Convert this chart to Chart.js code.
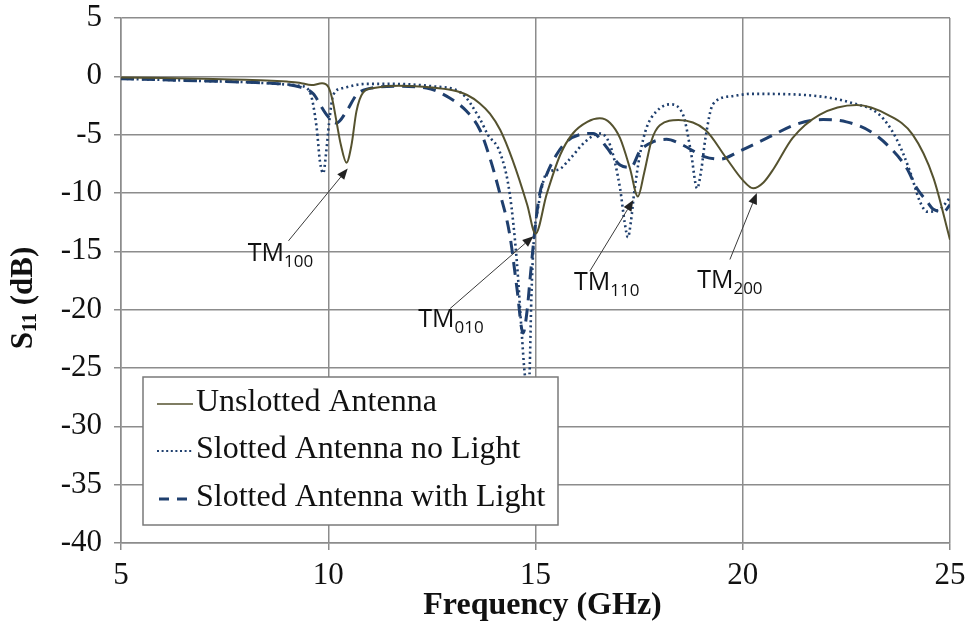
<!DOCTYPE html>
<html>
<head>
<meta charset="utf-8">
<script src="https://cdn.jsdelivr.net/npm/chart.js@4.4.1/dist/chart.umd.min.js"></script>
<style>
  html, body { margin: 0; padding: 0; background: #fff; }
  canvas { display: block; }
</style>
</head>
<body>
<canvas id="s11-chart" width="972" height="637"></canvas>
<script>
// Data (GHz, dB)
const freqUnslotted = [5, 6, 7, 8, 8.5, 9, 9.3, 9.6, 9.85, 10.0, 10.1, 10.2, 10.3, 10.44, 10.56, 10.68, 10.84, 11.1, 11.7, 12.5, 13.0, 13.35, 13.65, 13.9, 14.15, 14.45, 14.8, 15.0, 15.27, 15.6, 15.9, 16.25, 16.55, 16.8, 17.04, 17.28, 17.47, 17.62, 17.8, 18.0, 18.45, 19.1, 19.6, 20.0, 20.25, 20.5, 20.75, 21.2, 21.85, 22.75, 23.5, 24.1, 24.6, 25];
const s11Unslotted = [-0.1, -0.15, -0.2, -0.3, -0.35, -0.45, -0.55, -0.75, -0.6, -0.9, -2.0, -3.9, -5.8, -7.4, -5.9, -3.0, -1.4, -1.0, -0.8, -0.95, -1.2, -1.6, -2.3, -3.2, -4.6, -7.2, -11, -13.5, -10.1, -6.7, -4.9, -3.9, -3.6, -4.0, -5.3, -7.9, -10.3, -8.3, -5.5, -4.2, -3.75, -4.6, -7.0, -8.9, -9.6, -9.1, -7.9, -5.3, -3.3, -2.45, -3.3, -5.0, -8.7, -14.0];

const freqNoLight = [5, 6, 7, 8, 9, 9.3, 9.55, 9.72, 9.8, 9.88, 9.95, 10.02, 10.12, 10.36, 10.9, 11.6, 12.5, 13.2, 13.65, 13.85, 14.14, 14.38, 14.55, 14.66, 14.74, 14.8, 14.85, 14.9, 14.96, 15.05, 15.27, 15.55, 15.8, 16.2, 16.55, 16.8, 17.04, 17.15, 17.23, 17.3, 17.38, 17.52, 17.68, 17.92, 18.24, 18.56, 18.75, 18.9, 19.0, 19.1, 19.28, 19.75, 20.2, 21.5, 22.65, 23.3, 23.7, 24.03, 24.27, 24.45, 24.75, 25];
const s11NoLight = [-0.2, -0.3, -0.4, -0.5, -0.7, -0.8, -1.3, -4.4, -7.3, -8.3, -6.5, -4.0, -1.6, -1.0, -0.65, -0.65, -0.85, -1.4, -3.6, -5.0, -6.5, -10.1, -15.9, -21.6, -25.5, -26.8, -26, -19, -14, -11.5, -8.3, -8.0, -7.2, -5.6, -4.9, -5.9, -9.6, -12.5, -13.8, -12.5, -10, -6.7, -4.4, -3.0, -2.4, -3.3, -6.5, -9.6, -8, -5.3, -2.4, -1.7, -1.5, -1.6, -2.3, -3.3, -5.3, -8.1, -10.7, -11.6, -11.4, -10.4];

const freqWithLight = [5, 6, 7, 8, 9, 9.3, 9.64, 9.8, 9.96, 10.2, 10.44, 10.68, 10.93, 11.7, 12.37, 12.93, 13.34, 13.66, 13.9, 14.1, 14.38, 14.55, 14.7, 14.8, 14.87, 14.99, 15.1, 15.27, 15.51, 15.75, 16.07, 16.39, 16.72, 17.04, 17.3, 17.52, 17.84, 18.16, 18.5, 19.09, 19.45, 19.93, 20.58, 21.3, 21.94, 22.5, 23.07, 23.55, 23.96, 24.2, 24.44, 24.6, 24.85, 25];
const s11WithLight = [-0.2, -0.3, -0.4, -0.5, -0.7, -0.9, -1.5, -2.4, -3.3, -4.0, -3.0, -1.6, -1.1, -0.86, -1.0, -1.86, -3.0, -4.6, -7.0, -9.5, -13.6, -18.1, -22.0, -20, -17.3, -13.0, -10.1, -8.4, -6.7, -5.6, -5.0, -4.9, -6.1, -7.6, -7.8, -6.4, -5.6, -5.4, -5.8, -6.9, -7.1, -6.4, -5.3, -4.1, -3.7, -3.9, -4.7, -6.1, -7.9, -9.6, -10.7, -11.4, -11.6, -11.0];

const seriesNames = ['Unslotted Antenna', 'Slotted Antenna no Light', 'Slotted Antenna with Light'];

// Mode labels: text anchor (left, baseline), arrow tail and arrow head, all in data units
const modeLabels = [
  { main: 'TM', sub: '100', at: [8.06, -15.85], tail: [9.04, -14.1], head: [10.47, -7.9] },
  { main: 'TM', sub: '010', at: [12.17, -21.5], tail: [12.94, -19.9], head: [14.95, -13.7] },
  { main: 'TM', sub: '110', at: [15.93, -18.35], tail: [16.31, -16.7], head: [17.36, -10.6] },
  { main: 'TM', sub: '200', at: [18.9, -18.1], tail: [19.69, -15.7], head: [20.34, -10.0] },
];

const xTicks = [5, 10, 15, 20, 25];
const yTicks = [5, 0, -5, -10, -15, -20, -25, -30, -35, -40];

const toPoints = (xs, ys) => xs.map((x, i) => ({ x, y: ys[i] }));

const OLIVE = '#55522f';
const NAVY = '#1f3f6e';
const GRID = '#8c8c8c';
const SERIF = '"Liberation Serif", "Times New Roman", serif';

const styles = [
  { borderColor: OLIVE, borderWidth: 2, borderDash: [] },
  { borderColor: NAVY, borderWidth: 2.6, borderDash: [2, 3.2] },
  { borderColor: NAVY, borderWidth: 3, borderDash: [13, 8] },
];

const datasets = [
  toPoints(freqUnslotted, s11Unslotted),
  toPoints(freqNoLight, s11NoLight),
  toPoints(freqWithLight, s11WithLight),
].map((pts, i) => ({
  label: seriesNames[i],
  data: pts,
  borderColor: styles[i].borderColor,
  borderWidth: styles[i].borderWidth,
  borderDash: styles[i].borderDash,
  pointRadius: 0,
  cubicInterpolationMode: 'monotone',
  fill: false,
}));

// Legend box, mode labels and the axis titles
const extras = {
  id: 'extras',
  afterDatasetsDraw(chart) {
    const { ctx, chartArea, scales: { x, y } } = chart;
    ctx.save();

    // mode arrows
    ctx.strokeStyle = '#3a3a3a';
    ctx.fillStyle = '#222';
    ctx.lineWidth = 1;
    modeLabels.forEach((m) => {
      const tx = x.getPixelForValue(m.tail[0]), ty = y.getPixelForValue(m.tail[1]);
      const hx = x.getPixelForValue(m.head[0]), hy = y.getPixelForValue(m.head[1]);
      const a = Math.atan2(hy - ty, hx - tx);
      const len = 11, wid = 4.5;
      const bx = hx - len * Math.cos(a), by = hy - len * Math.sin(a);
      ctx.beginPath();
      ctx.moveTo(tx, ty);
      ctx.lineTo(bx, by);
      ctx.stroke();
      ctx.beginPath();
      ctx.moveTo(hx, hy);
      ctx.lineTo(bx + wid * Math.sin(a), by - wid * Math.cos(a));
      ctx.lineTo(bx - wid * Math.sin(a), by + wid * Math.cos(a));
      ctx.closePath();
      ctx.fill();

      const lx = x.getPixelForValue(m.at[0]), ly = y.getPixelForValue(m.at[1]);
      ctx.fillStyle = '#111';
      ctx.textAlign = 'left';
      ctx.textBaseline = 'alphabetic';
      ctx.font = '25px "Open Sans", "Liberation Sans", sans-serif';
      ctx.fillText(m.main, lx, ly);
      const w = ctx.measureText(m.main).width;
      ctx.font = '17px "Open Sans", "Liberation Sans", sans-serif';
      ctx.fillText(m.sub, lx + w, ly + 6);
      ctx.fillStyle = '#222';
    });

    // legend
    const bx0 = 143, by0 = 377, bw = 415, bh = 148;
    ctx.fillStyle = '#fff';
    ctx.fillRect(bx0, by0, bw, bh);
    ctx.strokeStyle = '#7a7a7a';
    ctx.lineWidth = 1.5;
    ctx.strokeRect(bx0, by0, bw, bh);
    const rows = [403, 450, 498];
    const legendDash = [[], [2, 2.6], [10, 8]];
    const legendWidth = [1.5, 2, 3];
    seriesNames.forEach((name, i) => {
      ctx.strokeStyle = styles[i].borderColor;
      ctx.lineWidth = legendWidth[i];
      ctx.setLineDash(legendDash[i]);
      ctx.beginPath();
      ctx.moveTo(i === 2 ? 159 : 157, rows[i] + 1);
      ctx.lineTo(193, rows[i] + 1);
      ctx.stroke();
      ctx.setLineDash([]);
      ctx.fillStyle = '#111';
      ctx.font = '32px ' + SERIF;
      ctx.textAlign = 'left';
      ctx.textBaseline = 'middle';
      ctx.fillText(name, 196, rows[i]);
    });

    // x axis title
    ctx.fillStyle = '#111';
    ctx.font = 'bold 32px ' + SERIF;
    ctx.textAlign = 'center';
    ctx.textBaseline = 'middle';
    ctx.fillText('Frequency (GHz)', (chartArea.left + chartArea.right) / 2 + 7, 606);

    // y axis title with subscript
    ctx.translate(24, 298);
    ctx.rotate(-Math.PI / 2);
    ctx.textAlign = 'left';
    const p1 = 'S', p2 = '11', p3 = ' (dB)';
    ctx.font = 'bold 31px ' + SERIF;
    const w1 = ctx.measureText(p1).width, w3 = ctx.measureText(p3).width;
    ctx.font = 'bold 20px ' + SERIF;
    const w2 = ctx.measureText(p2).width;
    let cx = -(w1 + w2 + w3) / 2;
    ctx.font = 'bold 31px ' + SERIF;
    ctx.fillText(p1, cx, 0);
    cx += w1;
    ctx.font = 'bold 20px ' + SERIF;
    ctx.fillText(p2, cx, 7);
    cx += w2;
    ctx.font = 'bold 31px ' + SERIF;
    ctx.fillText(p3, cx, 0);
    ctx.restore();
  }
};

const tickFont = { family: SERIF, size: 31, lineHeight: 1 };

new Chart(document.getElementById('s11-chart').getContext('2d'), {
  type: 'line',
  data: { datasets },
  options: {
    responsive: false,
    animation: false,
    layout: { padding: { top: 18, right: 22, left: 0, bottom: 0 } },
    plugins: { legend: { display: false }, tooltip: { enabled: false } },
    scales: {
      x: {
        type: 'linear',
        min: xTicks[0],
        max: xTicks[xTicks.length - 1],
        afterBuildTicks: (s) => { s.ticks = xTicks.map((v) => ({ value: v })); },
        ticks: { font: tickFont, color: '#111', padding: 10, maxRotation: 0 },
        grid: { color: GRID, lineWidth: 1.5, tickLength: 7 },
        border: { color: GRID, width: 1.5 },
        afterFit: (s) => { s.height = 94; s.paddingLeft = 0; s.paddingRight = 0; },
      },
      y: {
        min: yTicks[yTicks.length - 1],
        max: yTicks[0],
        afterBuildTicks: (s) => { s.ticks = yTicks.slice().reverse().map((v) => ({ value: v })); },
        ticks: { font: tickFont, color: '#111', padding: 12 },
        grid: { color: GRID, lineWidth: 1.5, tickLength: 7 },
        border: { color: GRID, width: 1.5 },
        afterFit: (s) => { s.width = 121; s.paddingTop = 0; s.paddingBottom = 0; },
      },
    },
  },
  plugins: [extras],
});
</script>
</body>
</html>
